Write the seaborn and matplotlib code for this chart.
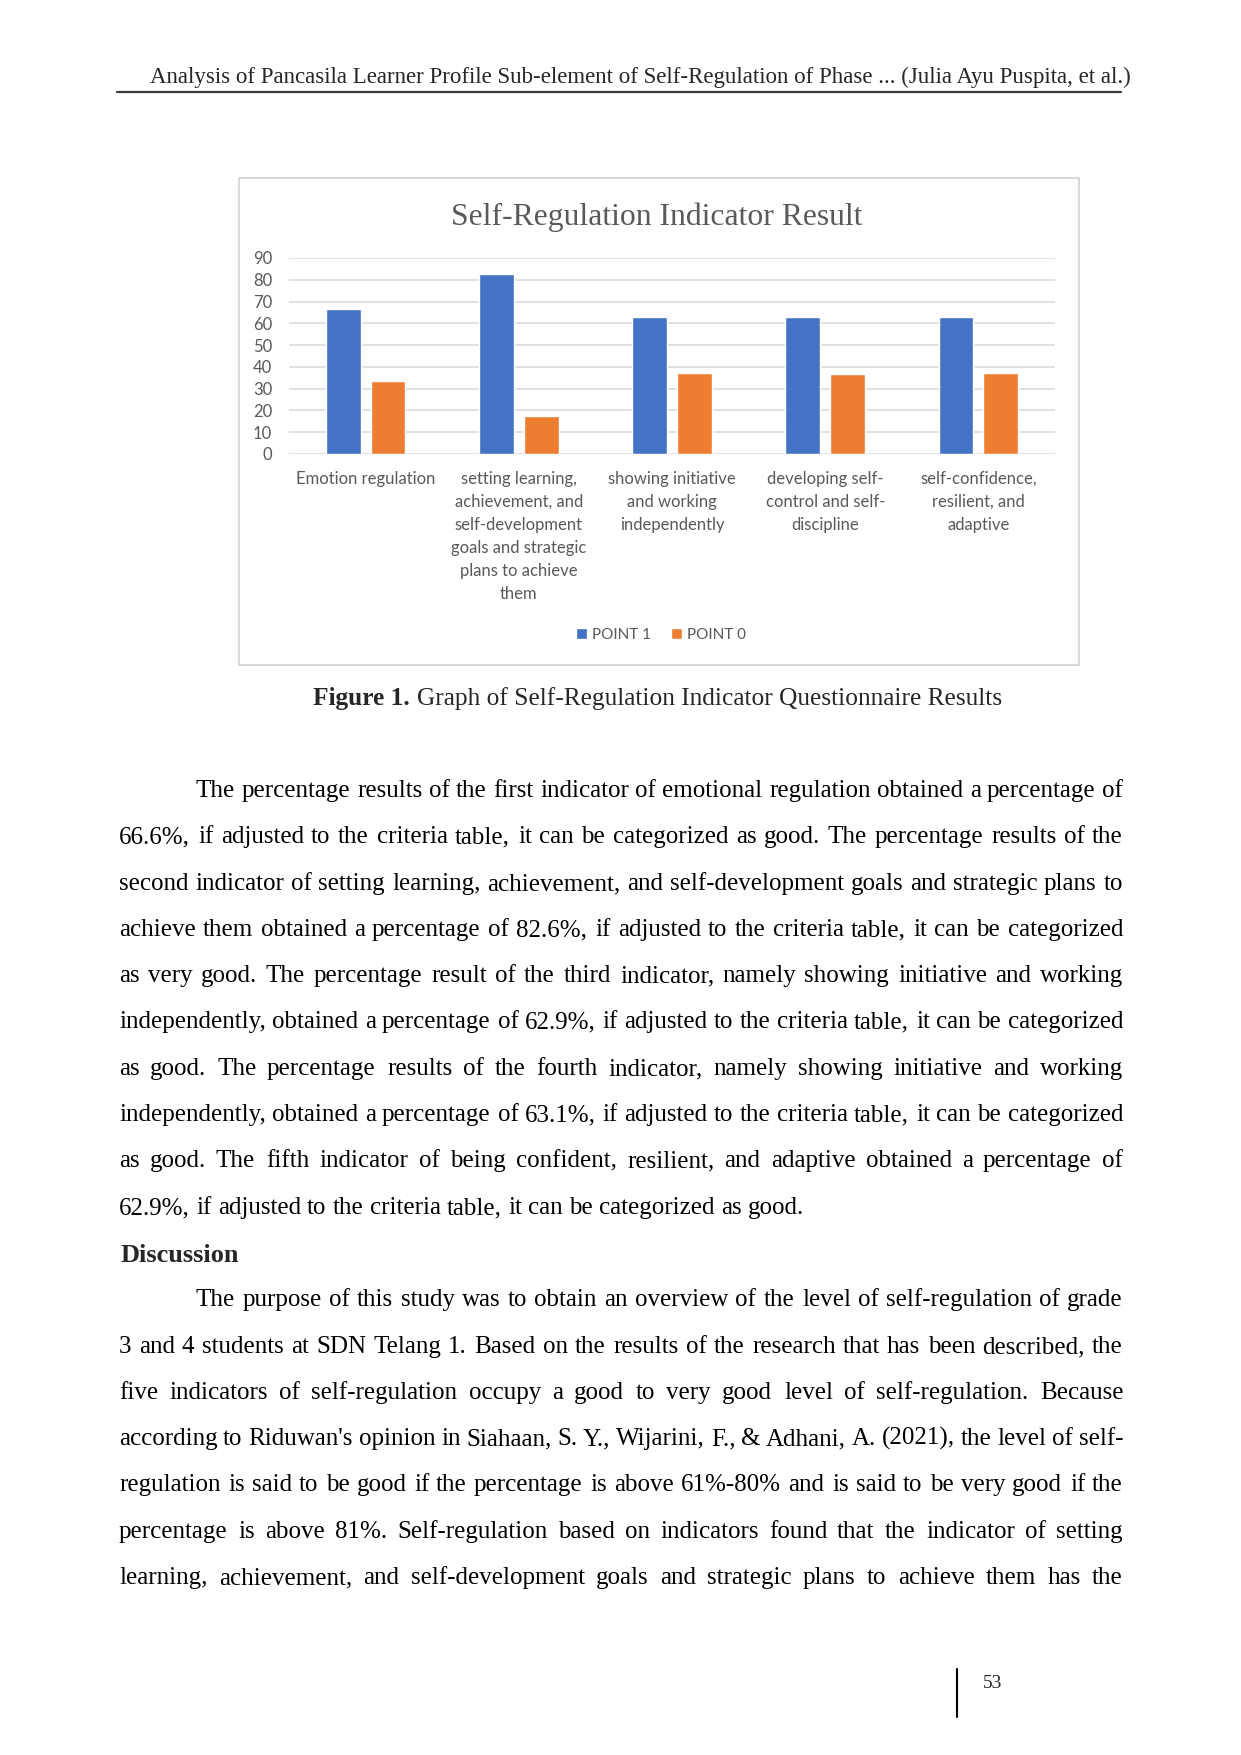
import matplotlib
matplotlib.use("Agg")
import matplotlib.pyplot as plt
import seaborn as sns
import pandas as pd
from matplotlib.patches import Rectangle
from matplotlib.lines import Line2D

W, H = 1241, 1755

# chart data (matches the percentages in the text)
categories = [
    "Emotion regulation",
    "setting learning,\nachievement, and\nself-development\ngoals and strategic\nplans to achieve\nthem",
    "showing initiative\nand working\nindependently",
    "developing self-\ncontrol and self-\ndiscipline",
    "self-confidence,\nresilient, and\nadaptive",
]
series = ["POINT 1", "POINT 0"]
point_1 = [66.6, 82.6, 62.9, 63.1, 62.9]
point_0 = [33.4, 17.4, 37.1, 36.9, 37.1]
y_ticks = [0, 10, 20, 30, 40, 50, 60, 70, 80, 90]

header = "Analysis of Pancasila Learner Profile Sub-element of Self-Regulation of Phase ... (Julia Ayu Puspita, et al.)"
chart_title = "Self-Regulation Indicator Result"
caption_bold = "Figure 1."
caption_rest = "Graph of Self-Regulation Indicator Questionnaire Results"

paragraph_1 = [
    "The percentage results of the first indicator of emotional regulation obtained a percentage of",
    "66.6%, if adjusted to the criteria table, it can be categorized as good. The percentage results of the",
    "second indicator of setting learning, achievement, and self-development goals and strategic plans to",
    "achieve them obtained a percentage of 82.6%, if adjusted to the criteria table, it can be categorized",
    "as very good. The percentage result of the third indicator, namely showing initiative and working",
    "independently, obtained a percentage of 62.9%, if adjusted to the criteria table, it can be categorized",
    "as good. The percentage results of the fourth indicator, namely showing initiative and working",
    "independently, obtained a percentage of 63.1%, if adjusted to the criteria table, it can be categorized",
    "as good. The fifth indicator of being confident, resilient, and adaptive obtained a percentage of",
    "62.9%, if adjusted to the criteria table, it can be categorized as good.",
]
paragraph_2 = [
    "The purpose of this study was to obtain an overview of the level of self-regulation of grade",
    "3 and 4 students at SDN Telang 1. Based on the results of the research that has been described, the",
    "five indicators of self-regulation occupy a good to very good level of self-regulation. Because",
    "according to Riduwan's opinion in Siahaan, S. Y., Wijarini, F., & Adhani, A. (2021), the level of self-",
    "regulation is said to be good if the percentage is above 61%-80% and is said to be very good if the",
    "percentage is above 81%. Self-regulation based on indicators found that the indicator of setting",
    "learning, achievement, and self-development goals and strategic plans to achieve them has the",
]

SERIF = ["Liberation Serif", "DejaVu Serif"]
GREY = "#595959"

df = pd.DataFrame({
    "category": categories * 2,
    "series": [series[0]] * len(categories) + [series[1]] * len(categories),
    "value": point_1 + point_0,
})

sns.set_theme(style="white")
plt.rcParams["font.family"] = ["Lato", "DejaVu Sans"]

fig = plt.figure(figsize=(W / 100, H / 100), dpi=100)
fig.patch.set_facecolor("white")
renderer = fig.canvas.get_renderer()


def fy(y):
    return 1 - y / H


def fit(txt, target_px):
    # scale font so the text spans target_px
    w = txt.get_window_extent(renderer).width
    txt.set_fontsize(txt.get_fontsize() * target_px / w)


def text_line(s, x0, x1, y, size, justify=True, weight="normal"):
    # y is the middle of the lowercase letters, words sit on a common baseline
    base = round(y + 6)
    words = s.split()
    objs = [fig.text(0, fy(base), w, fontsize=size, family=SERIF, weight=weight,
                     ha="left", va="baseline", color="black") for w in words]
    widths = [o.get_window_extent(renderer).width for o in objs]
    probe_a = fig.text(0, 0, "a a", fontsize=size, family=SERIF)
    probe_b = fig.text(0, 0, "aa", fontsize=size, family=SERIF)
    space = probe_a.get_window_extent(renderer).width - probe_b.get_window_extent(renderer).width
    probe_a.remove()
    probe_b.remove()
    if justify and len(words) > 1:
        gap = (x1 - x0 - sum(widths)) / (len(words) - 1)
    else:
        gap = space
    x = x0
    for o, w in zip(objs, widths):
        o.set_x(round(x) / W)
        x += w + gap


# page header
head = fig.text(150 / W, fy(77), header, family=SERIF, fontsize=13, ha="left", va="center")
fit(head, 975)
fig.lines.append(Line2D([117 / W, 1121 / W], [fy(92), fy(92)], transform=fig.transFigure,
                        color="#3a3a3a", lw=1.6))

# chart frame
fig.patches.append(Rectangle((239 / W, fy(665)), (1079 - 239) / W, (665 - 178) / H,
                             transform=fig.transFigure, fill=False, edgecolor="#D9D9D9", lw=1.5))

title = fig.text(657 / W, fy(217), chart_title, family=SERIF, fontsize=20, color=GREY,
                 ha="center", va="center")
fit(title, 412)

ax = fig.add_axes([289 / W, fy(454), (1055 - 289) / W, (454 - 258) / H])
sns.barplot(data=df, x="category", y="value", hue="series", hue_order=series,
            palette=["#4472C4", "#ED7D31"], saturation=1, width=0.584, gap=0.22,
            errorbar=None, ax=ax)
ax.set_xlim(-0.5, 4.5)
ax.set_ylim(0, 90)
ax.set_yticks(y_ticks)
ax.yaxis.grid(True, color="#D9D9D9", lw=1.1)
ax.set_axisbelow(True)
for sp in ax.spines.values():
    sp.set_visible(False)
ax.set_xlabel("")
ax.set_ylabel("")
ax.set_xticks(range(len(categories)))
ax.set_xticklabels(categories, linespacing=1.55)
ax.tick_params(axis="x", length=0, pad=12, labelsize=12, colors=GREY)
ax.tick_params(axis="y", length=0, pad=12, labelsize=12, colors=GREY)
ax.patch.set_alpha(0)

sns.move_legend(ax, loc="center", bbox_to_anchor=(661 / W, fy(635)), bbox_transform=fig.transFigure,
                ncol=2, frameon=False, title=None, fontsize=11, handlelength=0.7,
                handleheight=0.7, handletextpad=0.35, columnspacing=1.3, labelcolor=GREY)

# caption
cap_b = fig.text(0, fy(699), caption_bold, family=SERIF, weight="bold", fontsize=16,
                 ha="left", va="center")
cap_r = fig.text(0, fy(699), caption_rest, family=SERIF, fontsize=16, ha="left", va="center")
wb = cap_b.get_window_extent(renderer).width
wr = cap_r.get_window_extent(renderer).width
scale = 692 / (wb + wr + 6)
cap_b.set_fontsize(16 * scale)
cap_r.set_fontsize(16 * scale)
wb = cap_b.get_window_extent(renderer).width
cap_b.set_x(313 / W)
cap_r.set_x((313 + wb + 6 * scale) / W)

# body text
BODY = 18
LEFT, RIGHT, INDENT = 119, 1123, 196
STEP = 46.3
y = 791
for i, line in enumerate(paragraph_1):
    x0 = INDENT if i == 0 else LEFT
    text_line(line, x0, RIGHT, y, BODY, justify=(i < len(paragraph_1) - 1))
    y += STEP
fig.text(121 / W, fy(round(y + 8)), "Discussion", family=SERIF, weight="bold", fontsize=19,
         ha="left", va="baseline")
y += STEP
for i, line in enumerate(paragraph_2):
    x0 = INDENT if i == 0 else LEFT
    text_line(line, x0, RIGHT, y, BODY, justify=True)
    y += STEP

# page number
fig.lines.append(Line2D([957 / W, 957 / W], [fy(1669), fy(1717)], transform=fig.transFigure,
                        color="black", lw=1.5))
fig.text(983 / W, fy(1684), "53", family=SERIF, fontsize=14, ha="left", va="center")

fig.savefig("out.png", dpi=100, facecolor="white")
